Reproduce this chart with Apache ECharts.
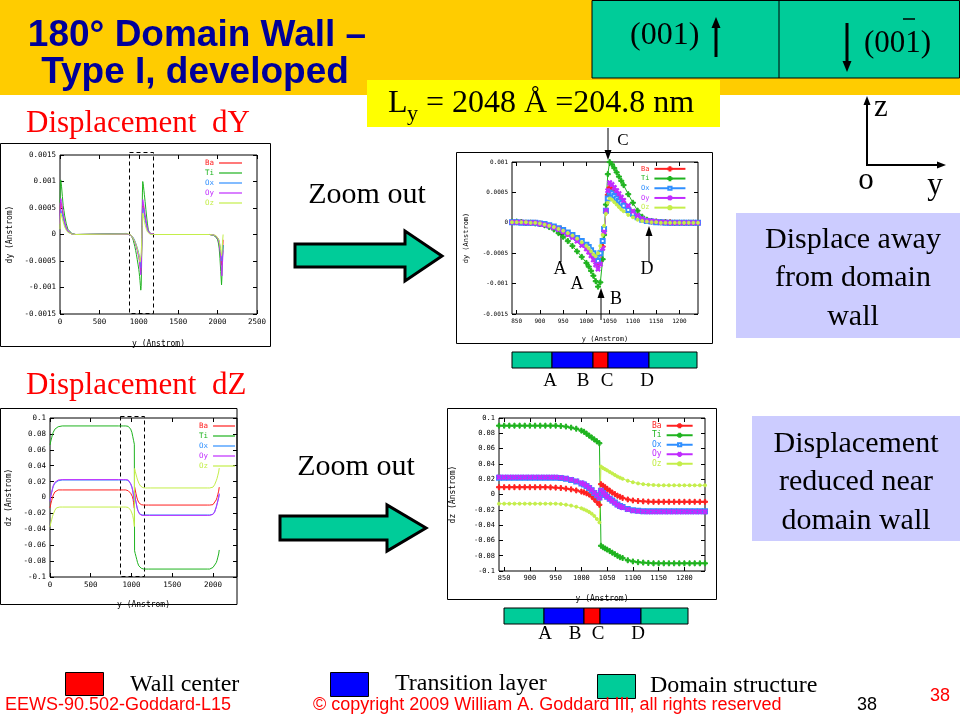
<!DOCTYPE html>
<html><head><meta charset="utf-8">
<script src="https://cdn.jsdelivr.net/npm/echarts@6/dist/echarts.min.js"></script>
<style>html,body{margin:0;padding:0;background:#fff}#c{width:960px;height:720px}</style>
</head><body><div id="c"></div>
<script>
// ---------------- DATA ----------------
const names = ['Ba','Ti','Ox','Oy','Oz'];
// positions (y, Angstrom) of zoomed window
const posZoom = [840,850,860,870,880,890,900,910,920,930,940,950,960,970,980,990,1000,1005,1010,1015,1020,1025,1030,1035,1038,1042,1046,1050,1055,1060,1065,1070,1075,1080,1090,1100,1110,1120,1130,1140,1150,1160,1170,1180,1190,1200,1210,1220,1230,1240];

// dy near the central wall
const dyZoomBa = [0.00001,0.00001,0.00001,0,0,0,-0.00001,-0.00003,-0.00005,-0.00007,-0.0001,-0.00013,-0.00018,-0.00022,-0.00028,-0.00034,-0.0004,-0.00044,-0.0005,-0.00056,-0.00063,-0.0007,-0.00063,-0.00039,-0.00014,0.00017,0.00046,0.00058,0.00055,0.00051,0.00046,0.00042,0.00037,0.00032,0.00024,0.00017,0.0001,0.00006,0.00003,0.00002,0.00002,0.00001,0.00001,0.00001,0,0,0,0,0,0];
const dyZoomTi = [0.00002,0.00002,0.00001,0,0,-0.00001,-0.00002,-0.00004,-0.00007,-0.00011,-0.00017,-0.00023,-0.0003,-0.00038,-0.00047,-0.00056,-0.00066,-0.00072,-0.00079,-0.00087,-0.00096,-0.00105,-0.00098,-0.0006,-0.0002,0.0003,0.0008,0.001,0.00096,0.0009,0.00083,0.00076,0.00069,0.00062,0.00047,0.00033,0.0002,0.0001,0.00005,0.00003,0.00002,0.00001,0.00001,0,0,0,0,0,0,0];
const dyZoomOx = [0.00001,0.00001,0,0,0,0,-0.00001,-0.00002,-0.00004,-0.00006,-0.00009,-0.00012,-0.00016,-0.0002,-0.00025,-0.0003,-0.00036,-0.0004,-0.00045,-0.0005,-0.00057,-0.00063,-0.0005,-0.0003,-0.0001,0.0002,0.0004,0.0005,0.00048,0.00044,0.0004,0.00036,0.00032,0.00028,0.00021,0.00015,0.00009,0.00005,0.00003,0.00002,0.00001,0.00001,0,0,0,0,0,0,0,0];
const dyZoomOy = [0.00001,0.00001,0.00001,0,0,0,-0.00002,-0.00003,-0.00005,-0.00008,-0.00011,-0.00015,-0.00019,-0.00024,-0.0003,-0.00037,-0.00043,-0.00048,-0.00054,-0.00061,-0.00069,-0.00076,-0.00068,-0.00042,-0.00015,0.0002,0.00053,0.00066,0.00063,0.00058,0.00053,0.00048,0.00042,0.00037,0.00028,0.00019,0.00012,0.00007,0.00004,0.00003,0.00002,0.00001,0.00001,0,0,0,0,0,0,0];
const dyZoomOz = [0.00001,0.00001,0.00001,0.00001,0,0,-0.00001,-0.00003,-0.00005,-0.00007,-0.0001,-0.00013,-0.00017,-0.00021,-0.00026,-0.00032,-0.00038,-0.00042,-0.00047,-0.00052,-0.00055,-0.0005,-0.00038,-0.0002,-0.00005,0.00015,0.00033,0.0004,0.00038,0.00034,0.0003,0.00026,0.00022,0.00019,0.00013,0.00009,0.00005,0.00003,0.00002,0.00001,0.00001,0,0,0,0,0,0,0,0,0];

// dz near the central wall
const dzZoomBa = [0.0095,0.0095,0.0095,0.0095,0.0095,0.0095,0.0095,0.0095,0.0095,0.0095,0.0093,0.009,0.0085,0.0077,0.0067,0.0053,0.0038,0.0028,0.0015,0,-0.0025,-0.006,-0.0095,-0.0135,0.0135,0.0115,0.0095,0.0075,0.005,0.0025,0.0005,-0.0015,-0.003,-0.0045,-0.0065,-0.0078,-0.0085,-0.009,-0.0093,-0.0095,-0.0095,-0.0095,-0.0095,-0.0095,-0.0095,-0.0095,-0.0095,-0.0095,-0.0095,-0.0095];
const dzZoomTi = [0.09,0.09,0.09,0.09,0.09,0.09,0.09,0.09,0.09,0.09,0.09,0.09,0.0895,0.0888,0.0875,0.086,0.0835,0.082,0.0795,0.077,0.0745,0.072,0.0695,0.067,-0.067,-0.069,-0.0705,-0.072,-0.074,-0.076,-0.078,-0.08,-0.082,-0.083,-0.086,-0.0875,-0.0885,-0.089,-0.0895,-0.09,-0.09,-0.09,-0.09,-0.09,-0.09,-0.09,-0.09,-0.09,-0.09,-0.09];
const dzZoomOx = [0.022,0.022,0.022,0.022,0.022,0.022,0.022,0.022,0.022,0.022,0.022,0.022,0.0215,0.0205,0.019,0.017,0.0145,0.013,0.011,0.0085,0.0055,0.002,-0.001,-0.004,0.005,0.002,-0.0005,-0.003,-0.0055,-0.008,-0.0105,-0.013,-0.015,-0.0165,-0.019,-0.0205,-0.0213,-0.0218,-0.022,-0.022,-0.022,-0.022,-0.022,-0.022,-0.022,-0.022,-0.022,-0.022,-0.022,-0.022];
const dzZoomOy = [0.0225,0.0225,0.0225,0.0225,0.0225,0.0225,0.0225,0.0225,0.0225,0.0225,0.0225,0.0225,0.022,0.021,0.0195,0.0175,0.015,0.0135,0.0115,0.009,0.006,0.0025,-0.0008,-0.0045,0.0055,0.0025,-0.0003,-0.003,-0.0058,-0.0085,-0.011,-0.0135,-0.0155,-0.017,-0.0195,-0.021,-0.0218,-0.0222,-0.0225,-0.0225,-0.0225,-0.0225,-0.0225,-0.0225,-0.0225,-0.0225,-0.0225,-0.0225,-0.0225,-0.0225];
const dzZoomOz = [-0.012,-0.012,-0.012,-0.012,-0.012,-0.012,-0.012,-0.012,-0.012,-0.012,-0.012,-0.012,-0.0125,-0.0133,-0.0145,-0.016,-0.018,-0.0195,-0.021,-0.0228,-0.025,-0.028,-0.032,-0.0365,0.0365,0.0345,0.033,0.0315,0.0295,0.0275,0.0255,0.0235,0.022,0.0205,0.018,0.016,0.0145,0.0135,0.0128,0.0124,0.012,0.012,0.012,0.012,0.012,0.012,0.012,0.012,0.012,0.012];

// dy near the cell edges
const posDyL = [0,5,10,20,30,40,50,60,80,100,150,200];
const dyLBa = [0.0003,0.00055,0.0006,0.00055,0.00045,0.00035,0.00028,0.00021,0.00012,0.00006,0.00001,0];
const dyLTi = [0.0006,0.00098,0.00103,0.0009,0.00072,0.00055,0.00045,0.00035,0.0002,0.0001,0.00002,0];
const dyLOx = [0.0003,0.00048,0.0005,0.00047,0.00038,0.0003,0.00024,0.00018,0.0001,0.00005,0.00001,0];
const dyLOy = [0.0002,0.0006,0.00068,0.00062,0.0005,0.0004,0.00032,0.00024,0.00013,0.00007,0.00001,0];
const dyLOz = [0.0001,0.00035,0.0004,0.00037,0.0003,0.00024,0.00019,0.00014,0.00008,0.00004,0.00001,0];
const posDyR = [1900,1950,1980,2000,2010,2020,2030,2040,2050,2055,2060,2070];
const dyRBa = [0,-0.00001,-0.00003,-0.00006,-0.0001,-0.00016,-0.00026,-0.0004,-0.00058,-0.0006,-0.0004,-0.0001];
const dyRTi = [0,-0.00002,-0.00005,-0.0001,-0.00016,-0.00026,-0.00045,-0.0007,-0.00095,-0.0008,-0.0005,-0.0002];
const dyROx = [0,-0.00001,-0.00003,-0.00005,-0.00008,-0.00013,-0.00022,-0.00035,-0.0005,-0.00052,-0.00045,-0.0002];
const dyROy = [0,-0.00001,-0.00003,-0.00006,-0.0001,-0.00017,-0.00028,-0.00045,-0.0007,-0.00078,-0.0006,-0.0003];
const dyROz = [0,-0.00001,-0.00002,-0.00005,-0.00008,-0.00012,-0.0002,-0.0003,-0.0004,-0.00035,-0.0002,0];

// dz near the cell edges
const posDzL = [0,10,20,30,40,60,80,100,120,150];
const dzLBa = [-0.013,-0.008,-0.004,0,0.003,0.007,0.009,0.0095,0.0095,0.0095];
const dzLTi = [0.066,0.071,0.075,0.079,0.082,0.086,0.088,0.089,0.09,0.09];
const dzLOx = [-0.004,0.002,0.006,0.01,0.014,0.018,0.02,0.021,0.022,0.022];
const dzLOy = [-0.005,0.002,0.0065,0.011,0.015,0.019,0.021,0.022,0.0225,0.0225];
const dzLOz = [-0.037,-0.032,-0.028,-0.024,-0.021,-0.016,-0.013,-0.012,-0.012,-0.012];
const posDzR = [1930,1960,1980,2000,2020,2040,2050,2060,2070,2077];
const dzRBa = [-0.0095,-0.0095,-0.0093,-0.009,-0.007,-0.003,0,0.004,0.008,0.013];
const dzRTi = [-0.09,-0.09,-0.089,-0.088,-0.086,-0.082,-0.079,-0.075,-0.071,-0.066];
const dzROx = [-0.022,-0.022,-0.022,-0.021,-0.018,-0.012,-0.008,-0.004,0,0.004];
const dzROy = [-0.0225,-0.0225,-0.0222,-0.0212,-0.0185,-0.0125,-0.0085,-0.0045,0,0.005];
const dzROz = [0.012,0.012,0.012,0.013,0.016,0.021,0.024,0.028,0.032,0.037];

// tick labels
const ticksZoomX = [850,900,950,1000,1050,1100,1150,1200];
const ticksFullDzX = [0,500,1000,1500,2000];

// ---------------- STYLE ----------------
const SERIF = '"Liberation Serif","Times New Roman",serif';
const SANS = '"Liberation Sans",Arial,sans-serif';
const MONO = '"DejaVu Sans Mono",monospace';
const colors = {Ba:'#ff2020', Ti:'#1fb31f', Ox:'#2f8fff', Oy:'#c02cff', Oz:'#c4ee4a'};
const PLUS = 'path://M3,0h2v3h3v2h-3v3h-2v-3h-3v-2h3z';
const markers = {Ba:PLUS, Ti:PLUS, Ox:'emptyRect', Oy:PLUS, Oz:'circle'};
const TEAL = '#00CC99';

const pairs = (xs, ys) => xs.map((x, i) => [x, ys[i]]);
const dyZoom = {Ba:dyZoomBa, Ti:dyZoomTi, Ox:dyZoomOx, Oy:dyZoomOy, Oz:dyZoomOz};
const dzZoom = {Ba:dzZoomBa, Ti:dzZoomTi, Ox:dzZoomOx, Oy:dzZoomOy, Oz:dzZoomOz};
const dyL = {Ba:dyLBa, Ti:dyLTi, Ox:dyLOx, Oy:dyLOy, Oz:dyLOz};
const dyR = {Ba:dyRBa, Ti:dyRTi, Ox:dyROx, Oy:dyROy, Oz:dyROz};
const dzL = {Ba:dzLBa, Ti:dzLTi, Ox:dzLOx, Oy:dzLOy, Oz:dzLOz};
const dzR = {Ba:dzRBa, Ti:dzRTi, Ox:dzROx, Oy:dzROy, Oz:dzROz};

const fmt = v => String(parseFloat(Number(v).toFixed(6)));

// grid specs
const grids = [
  {left:60, top:155, width:197, height:159},
  {left:512, top:162, width:186, height:152},
  {left:50, top:418, width:187, height:159},
  {left:499, top:418, width:206, height:153}
];
const axisSpec = [
  {xmin:0, xmax:2500, xint:500, ymin:-0.0015, ymax:0.0015, yint:0.0005, fs:7.5, ns:8, yname:'dy (Anstrom)', xgap:26, ygap:46},
  {xmin:840, xmax:1240, xcv:ticksZoomX, ymin:-0.0015, ymax:0.001, yint:0.0005, fs:6, ns:7, yname:'dy (Anstrom)', xgap:22, ygap:42},
  {xmin:0, xmax:2295, xcv:ticksFullDzX, ymin:-0.1, ymax:0.1, yint:0.02, fs:7.5, ns:8, yname:'dz (Anstrom)', xgap:24, ygap:37},
  {xmin:840, xmax:1240, xcv:ticksZoomX, ymin:-0.1, ymax:0.1, yint:0.02, fs:7, ns:8, yname:'dz (Anstrom)', xgap:24, ygap:42}
];

const xAxes = [], yAxes = [];
axisSpec.forEach((a, gi) => {
  const tick = {inside:true, length:4, lineStyle:{color:'#000', width:1}};
  const lab = {fontFamily:MONO, fontSize:a.fs, color:'#000', margin:4, formatter:fmt};
  const xb = {gridIndex:gi, type:'value', min:a.xmin, max:a.xmax, splitLine:{show:false},
    axisLine:{show:false, onZero:false}};
  if (a.xint) xb.interval = a.xint;
  const xTick = Object.assign({}, tick), xLab = Object.assign({}, lab);
  if (a.xcv) { xTick.customValues = a.xcv; xLab.customValues = a.xcv; }
  xAxes.push(Object.assign({}, xb, {position:'bottom', axisTick:xTick, axisLabel:xLab,
    name:'y (Anstrom)', nameLocation:'middle', nameGap:a.xgap,
    nameTextStyle:{fontFamily:MONO, fontSize:a.ns, color:'#000'}}));
  xAxes.push(Object.assign({}, xb, {position:'top', axisTick:xTick, axisLabel:{show:false}}));
  const yb = {gridIndex:gi, type:'value', min:a.ymin, max:a.ymax, interval:a.yint, splitLine:{show:false},
    axisLine:{show:false, onZero:false}, axisTick:tick};
  yAxes.push(Object.assign({}, yb, {position:'left', axisLabel:lab,
    name:a.yname, nameLocation:'middle', nameGap:a.ygap, nameRotate:90,
    nameTextStyle:{fontFamily:MONO, fontSize:a.ns, color:'#000'}}));
  yAxes.push(Object.assign({}, yb, {position:'right', axisLabel:{show:false}}));
});

function seriesFor(gi, dataFn, zoom) {
  return names.map(n => ({
    type:'line', name:n + '#' + gi, xAxisIndex:2*gi, yAxisIndex:2*gi,
    data:dataFn(n), showSymbol:zoom, symbol: zoom ? markers[n] : 'none',
    symbolSize: zoom ? (n === 'Ox' ? 4 : (n === 'Oz' ? 3 : 5)) : 0,
    symbolRotate: n === 'Oy' ? 45 : 0,
    lineStyle:{color:colors[n], width:1}, itemStyle:{color:colors[n], borderColor:colors[n], borderWidth:1},
    emphasis:{disabled:true}, silent:true, animation:false, clip:true
  }));
}
const series = [].concat(
  seriesFor(0, n => pairs(posDyL, dyL[n]).concat(pairs(posZoom, dyZoom[n]), pairs(posDyR, dyR[n])), false),
  seriesFor(1, n => pairs(posZoom, dyZoom[n]), true),
  seriesFor(2, n => pairs(posDzL, dzL[n]).concat(pairs(posZoom, dzZoom[n]), pairs(posDzR, dzR[n])), false),
  seriesFor(3, n => pairs(posZoom, dzZoom[n]), true)
);

const legSpec = [
  {left:205, top:158, w:23, fs:7.5, lh:10, zoom:false},
  {left:641, top:164, w:31, fs:7, lh:9.7, zoom:true},
  {left:199, top:421, w:22, fs:7.5, lh:10, zoom:false},
  {left:652, top:421, w:26, fs:8, lh:9.5, zoom:true}
];
const legends = legSpec.map((l, gi) => {
  const lg = {
    left:l.left, top:l.top, orient:'vertical', align:'right', padding:0,
    itemWidth:l.w, itemHeight: l.zoom ? 4 : 1.2, itemGap:0, selectedMode:false,
    formatter: nm => nm.split('#')[0],
    textStyle:{fontFamily:MONO, fontSize:l.fs, lineHeight:l.lh, padding:0},
    data: names.map(n => {
      const d = {name:n + '#' + gi, textStyle:{color:colors[n]}};
      if (!l.zoom) d.icon = 'rect';
      return d;
    })
  };
  if (!l.zoom) lg.itemStyle = {borderWidth:0};
  return lg;
});

// ---------------- GRAPHICS (slide decoration) ----------------
const G = [];
const rect = (x, y, w, h, fill, stroke, lw, dash) => G.push({type:'rect', shape:{x, y, width:w, height:h},
  style:{fill:fill || 'none', stroke:stroke || 'none', lineWidth:lw || 0, lineDash:dash || null}, silent:true});
const txt = (t, x, y, size, fill, align, family, weight) => G.push({type:'text', silent:true,
  style:{text:t, x, y, font:(weight ? weight + ' ' : '') + size + 'px ' + (family || SERIF), fill:fill || '#000',
  textAlign:align || 'left', textVerticalAlign:'middle'}});
const ln = (x1, y1, x2, y2, stroke, lw) => G.push({type:'line', silent:true, shape:{x1, y1, x2, y2},
  style:{stroke:stroke || '#000', lineWidth:lw || 1}});
const poly = (pts, fill, stroke, lw) => G.push({type:'polygon', silent:true, shape:{points:pts},
  style:{fill, stroke:stroke || 'none', lineWidth:lw || 0}});
function vArrow(x, from, to, lw, hw, hl) {
  const dir = to > from ? 1 : -1;
  ln(x, from, x, to - dir * hl, '#000', lw);
  poly([[x - hw/2, to - dir*hl], [x + hw/2, to - dir*hl], [x, to]], '#000');
}
function hArrow(y, from, to, lw, hw, hl) {
  ln(from, y, to - hl, y, '#000', lw);
  poly([[to - hl, y - hw/2], [to - hl, y + hw/2], [to, y]], '#000');
}

// header
rect(0, 0, 960, 95, '#FFCC00');
rect(592, 0.5, 367.5, 77.5, TEAL, '#000', 1);
ln(779, 0, 779, 78, '#000', 1);
txt('(001)', 630, 36, 32, '#000', 'left');
vArrow(716, 57, 17, 3, 9, 11);
vArrow(847, 23, 72, 3, 9, 11);
txt('(001)', 864, 44, 31, '#000', 'left');
ln(903, 19, 915, 19, '#000', 1.5);
txt('180° Domain Wall –', 197, 36, 37, '#000099', 'center', SANS, 'bold');
txt('Type I, developed', 195, 73, 37, '#000099', 'center', SANS, 'bold');
rect(367, 80, 353, 47, '#FFFF00');
txt('L', 388, 104, 32, '#000', 'left');
txt('y', 407, 114, 22, '#000', 'left');
txt(' = 2048 Å =204.8 nm', 418, 104, 32, '#000', 'left');
txt('Displacement  dY', 26, 124, 31, '#FF0000', 'left');
txt('Displacement  dZ', 26, 386, 31, '#FF0000', 'left');

// chart image frames
rect(0.5, 143.5, 270, 203, null, '#000', 1);
rect(456.5, 152.5, 256, 191, null, '#000', 1);
rect(0.5, 408.5, 236.5, 196, null, '#000', 1);
rect(447.5, 408.5, 269, 191, null, '#000', 1);
// dashed zoom windows
rect(129.5, 152.5, 24, 161, null, '#000', 1, [4, 3]);
rect(120.5, 416.5, 24, 160, null, '#000', 1, [4, 3]);

// zoom out arrows
txt('Zoom out', 367, 195, 30, '#000', 'center');
poly([[295,244],[405,244],[405,231],[442,256],[405,281],[405,267],[295,267]], TEAL, '#000', 3);
txt('Zoom out', 356, 467, 30, '#000', 'center');
poly([[280,516],[387,516],[387,505],[426,528],[387,551],[387,540],[280,540]], TEAL, '#000', 3);

// A B C D bars
function bar(x0, y0, h, segs, labels, ly) {
  let x = x0;
  segs.forEach(s => { rect(x, y0, s[0], h, s[1], '#000', 1); x += s[0]; });
  labels.forEach(l => txt(l[0], l[1], ly, 19, '#000', 'center'));
}
bar(512, 352, 16, [[40,TEAL],[41,'#0000FF'],[15,'#FF0000'],[41,'#0000FF'],[48,TEAL]],
    [['A',550],['B',583],['C',607],['D',647]], 381);
bar(504, 608, 16, [[40,TEAL],[40,'#0000FF'],[16,'#FF0000'],[41,'#0000FF'],[47,TEAL]],
    [['A',545],['B',575],['C',598],['D',638]], 634);

// annotation arrows on the zoomed dy chart
vArrow(608, 128, 160, 1, 7, 10);
txt('C', 623, 141, 17, '#000', 'center');
vArrow(561, 262, 225, 1, 7, 10);
txt('A', 560, 269, 18, '#000', 'center');
txt('A', 577, 284, 18, '#000', 'center');
vArrow(601, 320, 288, 1, 7, 10);
txt('B', 616, 299, 18, '#000', 'center');
vArrow(649, 262, 226, 1, 7, 10);
txt('D', 647, 269, 18, '#000', 'center');

// coordinate axes z-o-y
vArrow(867, 165, 96, 2, 7, 9);
hArrow(165, 866, 946, 2, 7, 9);
txt('z', 881, 108, 31, '#000', 'center');
txt('o', 866, 181, 31, '#000', 'center');
txt('y', 935, 186, 31, '#000', 'center');

// note boxes
rect(736, 213, 224, 125, '#CCCCFF');
txt('Displace away', 853, 240, 30, '#000', 'center');
txt('from domain', 853, 278, 30, '#000', 'center');
txt('wall', 853, 317, 30, '#000', 'center');
rect(752, 416, 208, 125, '#CCCCFF');
txt('Displacement', 856, 444, 30, '#000', 'center');
txt('reduced near', 856, 482, 30, '#000', 'center');
txt('domain wall', 856, 521, 30, '#000', 'center');

// bottom legend
rect(65.5, 672.5, 38, 23, '#FF0000', '#000', 1);
txt('Wall center', 130, 685, 24, '#000', 'left');
rect(330.5, 672.5, 38, 24, '#0000FF', '#000', 1);
txt('Transition layer', 395, 684, 24, '#000', 'left');
rect(597.5, 674.5, 38, 24, TEAL, '#000', 1);
txt('Domain structure', 650, 686, 24, '#000', 'left');

// footer
txt('EEWS-90.502-Goddard-L15', 5, 705, 18, '#FF0000', 'left', SANS);
txt('© copyright 2009 William A. Goddard III, all rights reserved', 313, 705, 18, '#FF0000', 'left', SANS);
txt('38', 867, 705, 18, '#000', 'center', SANS);
txt('38', 940, 696, 18, '#FF0000', 'center', SANS);

const chart = echarts.init(document.getElementById('c'));
chart.setOption({
  animation:false,
  backgroundColor:'#fff',
  grid: grids.map(g => Object.assign({show:true, borderColor:'#000', borderWidth:1, backgroundColor:'transparent'}, g)),
  xAxis: xAxes, yAxis: yAxes,
  legend: legends,
  series: series,
  graphic: {elements: G}
});
</script></body></html>
